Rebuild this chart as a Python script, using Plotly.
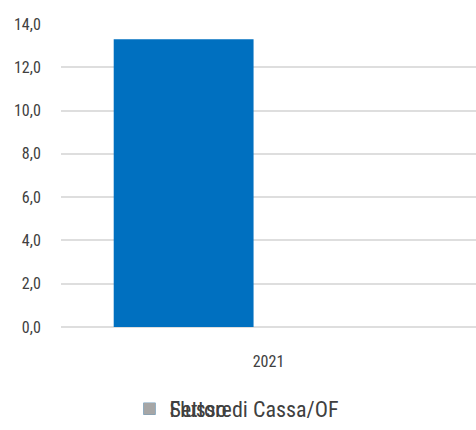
import plotly.graph_objects as go

# Data
categories = ["2021"]
flusso_values = [13.3]
settore_values = [None]
y_ticks = [0, 2, 4, 6, 8, 10, 12, 14]

FONT = "Liberation Sans Narrow, Arial Narrow, Roboto Condensed, Liberation Sans, sans-serif"
TEXT = "#404040"
GRID = "#dedede"

fig = go.Figure()
fig.add_trace(go.Bar(
    x=categories, y=flusso_values, name="Flusso di Cassa/OF",
    marker=dict(color="#0070C0", line=dict(width=0)),
    width=0.337, offset=-0.373, legend="legend",
))
fig.add_trace(go.Bar(
    x=categories, y=settore_values, name="Settore",
    marker=dict(color="#a6a6a6", line=dict(width=0)),
    width=0.337, offset=-0.036, legend="legend2",
))

legend_common = dict(
    x=0.165, y=-0.272, xanchor="left", yanchor="middle",
    orientation="h", bgcolor="rgba(0,0,0,0)",
    font=dict(family=FONT, size=22, color=TEXT),
    itemwidth=30, itemsizing="constant",
)

fig.update_layout(
    width=476, height=430,
    margin=dict(l=61, r=0, t=24, b=103),
    paper_bgcolor="white", plot_bgcolor="white",
    separators=",.",
    barmode="group",
    font=dict(family=FONT, color=TEXT),
    showlegend=True,
    legend=legend_common,
    legend2=legend_common,
    xaxis=dict(
        type="category", showgrid=False, showline=False, zeroline=False,
        ticks="outside", ticklen=20, tickcolor="rgba(0,0,0,0)",
        tickfont=dict(family=FONT, size=16, color=TEXT),
        range=[-0.5, 0.5],
    ),
    yaxis=dict(
        range=[0, 14], tickvals=y_ticks, tickformat=".1f",
        showgrid=True, gridcolor=GRID, gridwidth=2,
        zeroline=True, zerolinecolor=GRID, zerolinewidth=2,
        showline=False,
        ticks="outside", ticklen=16, tickcolor="rgba(0,0,0,0)",
        tickfont=dict(family=FONT, size=16, color=TEXT),
    ),
)

fig.write_html("out.html")
